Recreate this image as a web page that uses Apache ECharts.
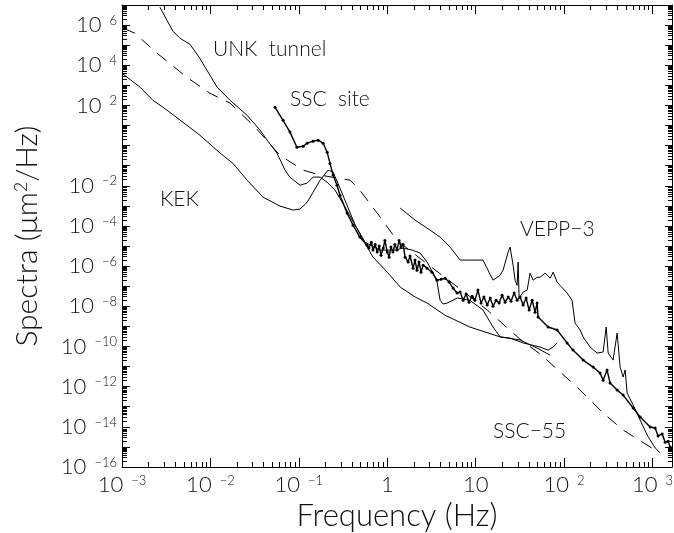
<!DOCTYPE html>
<html>
<head>
<meta charset="utf-8">
<script src="https://cdn.jsdelivr.net/npm/echarts@6/dist/echarts.min.js"></script>
<style>
html, body { margin: 0; padding: 0; background: #fff; }
#chart { width: 674px; height: 533px; }
</style>
</head>
<body>
<div id="chart"></div>
<script>
// [frequency (Hz), spectrum (um^2/Hz)]
var unkTunnel = [
	[2.69e-3, 7.7e6], [3.23e-3, 1.7e6], [3.78e-3, 4.9e5], [4.53e-3, 2.2e5], [5.88e-3, 1.1e5],
	[7.6e-3, 2.2e4], [1.19e-2, 810], [1.67e-2, 180], [2.6e-2, 32], [3.64e-2, 5.9],
	[4.37e-2, 1.9], [5.66e-2, 0.42], [6.98e-2, 0.060], [7.9e-2, 0.027], [0.103, 0.0107],
	[0.124, 0.0135], [0.145, 0.027], [0.174, 0.027], [0.209, 0.015], [0.257, 6.0e-3],
	[0.333, 8.7e-4], [0.433, 1.1e-4], [0.56, 1.55e-5], [0.83, 6.3e-6], [1.22, 6.3e-6],
	[1.51, 7.9e-6], [1.91, 6.3e-6], [2.35, 4.5e-6], [2.82, 1.6e-6], [3.30, 4.5e-7],
	[3.66, 1.6e-7], [3.96, 2.0e-8], [4.28, 1.3e-8], [4.75, 1.45e-8], [6.2, 2.6e-8],
	[8.6, 2.0e-8], [12.1, 6.5e-9], [15.7, 9.3e-10], [18.9, 3.0e-10], [24.5, 2.6e-10],
	[34.4, 1.5e-10], [53.6, 9.3e-11], [66, 6.6e-11], [75, 9.3e-11], [83, 1.5e-10]
];

var kek = [
	[1.0e-3, 4.0e3], [1.6e-3, 810], [2.24e-3, 180], [3.23e-3, 58], [5.43e-3, 10.2],
	[7.6e-3, 3.3], [1.29e-2, 0.42], [1.8e-2, 0.13], [2.6e-2, 0.019], [3.94e-2, 2.7e-3],
	[6.1e-2, 9.8e-4], [8.6e-2, 6.2e-4], [0.103, 6.9e-4], [0.124, 1.5e-3], [0.145, 4.8e-3],
	[0.174, 0.019], [0.214, 0.060], [0.244, 0.048], [0.292, 7.6e-3], [0.351, 1.07e-3],
	[0.433, 1.1e-4], [0.56, 1.4e-5], [0.69, 2.8e-6], [1.0, 5.0e-7], [1.40, 9.1e-8],
	[2.07, 2.9e-8], [2.82, 1.45e-8], [4.5, 3.6e-9], [8.6, 9.3e-10], [18.9, 3.0e-10],
	[31.8, 2.1e-10], [49.5, 8.3e-11], [69.5, 3.7e-11]
];

var sscSite = [
	[5.38e-2, 81], [6.63e-2, 18.2], [7.94e-2, 4.7], [9.5e-2, 0.83], [0.112, 0.93],
	[0.124, 1.32], [0.145, 1.66], [0.165, 1.86], [0.188, 1.32], [0.209, 0.47],
	[0.225, 0.13], [0.244, 0.034], [0.270, 0.0107], [0.292, 3.4e-3], [0.351, 4.4e-4],
	[0.41, 1.1e-4], [0.49, 2.8e-5], [0.59, 1.1e-5],
	[0.62, 7.9e-6], [0.66, 1.55e-5], [0.69, 6.3e-6], [0.73, 1.2e-5], [0.77, 5.0e-6],
	[0.81, 1.0e-5], [0.85, 3.5e-6], [0.90, 7.9e-6], [0.94, 1.9e-5], [1.0, 5.0e-6],
	[1.05, 2.8e-6], [1.10, 8.9e-6], [1.16, 5.0e-6], [1.22, 1.2e-5], [1.29, 6.3e-6],
	[1.36, 1.9e-5], [1.43, 8.9e-6], [1.51, 1.2e-5],
	[1.59, 2.8e-6], [1.72, 1.6e-6], [1.81, 3.2e-6], [1.96, 7.9e-7], [2.06, 2.0e-6],
	[2.17, 6.3e-7], [2.29, 1.6e-6], [2.41, 5.0e-7], [2.54, 1.1e-6], [2.82, 7.9e-7],
	[3.21, 5.0e-7], [3.66, 2.0e-7], [4.06, 2.2e-7], [4.51, 2.5e-7], [5.00, 1.6e-7],
	[5.55, 8.1e-8], [6.16, 4.6e-8],
	[6.67, 5.1e-8], [7.2, 2.0e-8], [7.8, 4.1e-8], [8.4, 1.6e-8], [9.1, 3.2e-8],
	[9.8, 2.0e-8], [10.6, 6.4e-8], [11.5, 1.45e-8], [12.4, 2.9e-8], [13.5, 1.15e-8],
	[14.6, 2.6e-8], [15.7, 1.0e-8], [17.0, 2.0e-8], [18.4, 1.45e-8], [19.9, 3.6e-8],
	[21.5, 1.6e-8], [23.3, 2.9e-8], [25.1, 1.8e-8], [27.2, 4.6e-8], [29.4, 2.0e-8],
	[31.8, 2.9e-8], [34.4, 1.15e-8], [37.2, 2.6e-8], [40.2, 6.5e-9], [43.5, 2.0e-8],
	[47.0, 5.1e-9], [49.5, 1.45e-8],
	[50.8, 2.9e-9], [65.9, 9.3e-10], [83.3, 6.6e-10], [108, 1.5e-10], [126, 6.6e-11],
	[164, 2.1e-11], [213, 9.4e-12], [255, 4.8e-12], [276, 2.1e-12], [306, 6.8e-12],
	[331, 1.5e-12], [398, 6.8e-13], [465, 3.8e-13], [604, 8.7e-14], [724, 3.1e-14],
	[940, 9.8e-15], [1070, 8.7e-15], [1155, 3.5e-15], [1285, 4.4e-15], [1390, 1.7e-15],
	[1500, 1.9e-15], [1580, 1.0e-15]
];

var vepp3 = [
	[1.40, 7.8e-4], [2.06, 1.95e-4], [3.05, 6.2e-5], [3.96, 2.8e-5], [5.13, 8.9e-6],
	[6.67, 2.0e-6], [8.65, 2.0e-6], [12.1, 2.0e-6], [15.7, 2.0e-7], [18.9, 3.5e-7],
	[20.4, 6.3e-7], [23.3, 5.0e-6], [24.5, 8.9e-6], [26.5, 1.1e-6], [27.9, 2.0e-7],
	[29.4, 1.1e-7], [30.2, 1.6e-6], [31.0, 2.6e-8], [34.4, 5.1e-8], [38.2, 6.4e-8],
	[41.2, 4.5e-7], [44.6, 2.0e-7], [49.5, 2.8e-7], [53.6, 2.8e-7], [61.0, 4.5e-7],
	[69.5, 2.5e-7], [75.2, 5.0e-7], [83.3, 1.6e-7], [90.2, 1.1e-7], [108, 4.6e-8],
	[123, 2.0e-8], [133, 1.45e-9], [152, 6.6e-10], [164, 3.0e-10], [197, 9.3e-11],
	[236, 4.7e-11], [276, 5.3e-11], [299, 9.3e-10], [315, 4.7e-11], [358, 2.1e-11],
	[398, 4.7e-10], [430, 9.4e-12], [465, 3.0e-12], [490, 6.8e-12], [516, 4.8e-13],
	[604, 1.2e-13], [724, 2.2e-14], [869, 3.9e-15], [1070, 8.9e-16], [1220, 5.0e-16]
];

var ssc55 = [
	[1.05e-3, 6.9e5], [1.40e-3, 3.9e5], [2.49e-3, 4.0e4], [5.43e-3, 2.5e3], [9.9e-3, 400],
	[1.67e-2, 130], [3.2e-2, 8.3], [6.1e-2, 0.33], [0.112, 0.060], [0.174, 0.034],
	[0.38, 0.019], [0.49, 6.0e-3], [0.83, 2.8e-4], [1.29, 1.9e-5], [3.05, 1.0e-6],
	[6.7, 7.2e-8], [13.5, 6.5e-9], [31.8, 2.3e-10], [53.6, 4.2e-11], [140, 9.5e-13],
	[276, 4.9e-14], [465, 6.9e-15], [1155, 5.6e-16]
];

var xMajorTicks = [1e-3, 1e-2, 1e-1, 1, 10, 100, 1000];
var yMajorTicks = [1e-16, 1e-15, 1e-14, 1e-13, 1e-12, 1e-11, 1e-10, 1e-9, 1e-8, 1e-7, 1e-6,
	1e-5, 1e-4, 1e-3, 1e-2, 1e-1, 1, 10, 100, 1e3, 1e4, 1e5, 1e6, 1e7];
var yLabelTicks = [1e-16, 1e-14, 1e-12, 1e-10, 1e-8, 1e-6, 1e-4, 1e-2, 100, 1e4, 1e6];

var xMin = 1e-3, xMax = 1660, yMin = 1e-16, yMax = 1e7;
var font = 'Lato';

function minorTicks(majors, lo, hi) {
	var out = [];
	for (var i = 0; i < majors.length; i++) {
		for (var k = 2; k <= 9; k++) {
			var v = majors[i] * k;
			if (v > lo && v < hi) out.push(v);
		}
	}
	return out;
}
var xMinorTicks = minorTicks(xMajorTicks, xMin, xMax);
var yMinorTicks = minorTicks(yMajorTicks, yMin, yMax);

function expOf(v) {
	return Math.round(Math.log10(v));
}
function supText(e) {
	return e < 0 ? '\u2212' + (-e) : '' + e;
}

var labelRich = {
	a : { fontFamily : font, fontSize : 22, fontWeight : 300, color : '#111' },
	b : { fontFamily : font, fontSize : 13, fontWeight : 300, color : '#111', verticalAlign : 'top', padding : [ 0, 0, 0, 8 ] }
};

function xLabel(v) {
	var e = expOf(v);
	if (Math.abs(Math.log10(v) - e) > 1e-6) return '';
	if (e === 0) return '{a|1}';
	if (e === 1) return '{a|10}';
	return '{a|10}{b|' + supText(e) + '}';
}
function yLabel(v) {
	var e = expOf(v);
	if (Math.abs(Math.log10(v) - e) > 1e-6 || e % 2 !== 0) return '';
	return '{a|10}{b|' + supText(e) + '}';
}

var axisBlack = { lineStyle : { color : '#000', width : 1 } };

function logAxis(extra) {
	var base = { type : 'log', logBase : 10, splitLine : { show : false } };
	for (var k in extra) base[k] = extra[k];
	return base;
}

var chart = echarts.init(document.getElementById('chart'));
var option = {
	backgroundColor : '#fff',
	animation : false,
	grid : [
		{ left : 122, right : 2, top : 5, bottom : 66, show : false, outerBoundsMode : 'none' },
		{ left : 122, right : 2, top : 5, bottom : 66, show : false, outerBoundsMode : 'none' }
	],
	xAxis : [
		logAxis({ gridIndex : 0, position : 'bottom', min : xMin, max : xMax,
			axisLine : axisBlack,
			axisTick : { inside : true, length : 9, customValues : xMajorTicks, lineStyle : { color : '#000' } },
			axisLabel : { customValues : xMajorTicks, formatter : xLabel, margin : 7, rich : labelRich },
			name : 'Frequency (Hz)', nameLocation : 'middle', nameGap : 30,
			nameTextStyle : { fontFamily : font, fontSize : 31, fontWeight : 300, color : '#111' } }),
		logAxis({ gridIndex : 0, position : 'top', min : xMin, max : xMax,
			axisLine : axisBlack,
			axisTick : { inside : true, length : 9, customValues : xMajorTicks, lineStyle : { color : '#000' } },
			axisLabel : { show : false } }),
		logAxis({ gridIndex : 1, position : 'bottom', min : xMin, max : xMax,
			axisLine : { show : false },
			axisTick : { inside : true, length : 5, customValues : xMinorTicks, lineStyle : { color : '#000' } },
			axisLabel : { show : false } }),
		logAxis({ gridIndex : 1, position : 'top', min : xMin, max : xMax,
			axisLine : { show : false },
			axisTick : { inside : true, length : 5, customValues : xMinorTicks, lineStyle : { color : '#000' } },
			axisLabel : { show : false } })
	],
	yAxis : [
		logAxis({ gridIndex : 0, position : 'left', min : yMin, max : yMax,
			axisLine : axisBlack,
			axisTick : { inside : true, length : 8, customValues : yMajorTicks, lineStyle : { color : '#000' } },
			axisLabel : { customValues : yLabelTicks, formatter : yLabel, margin : 5, rich : labelRich },
			name : '{t|Spectra (\u03bcm}{s|2}{t|/Hz)}', nameLocation : 'middle', nameGap : 80,
			nameTextStyle : { rich : {
				t : { fontFamily : font, fontSize : 30, fontWeight : 300, color : '#111' },
				s : { fontFamily : font, fontSize : 18, fontWeight : 300, color : '#111', verticalAlign : 'top' }
			} } }),
		logAxis({ gridIndex : 0, position : 'right', min : yMin, max : yMax,
			axisLine : axisBlack,
			axisTick : { inside : true, length : 7, customValues : yMajorTicks, lineStyle : { color : '#000' } },
			axisLabel : { show : false } }),
		logAxis({ gridIndex : 1, position : 'left', min : yMin, max : yMax,
			axisLine : { show : false },
			axisTick : { inside : true, length : 5, customValues : yMinorTicks, lineStyle : { color : '#000' } },
			axisLabel : { show : false } }),
		logAxis({ gridIndex : 1, position : 'right', min : yMin, max : yMax,
			axisLine : { show : false },
			axisTick : { inside : true, length : 4, customValues : yMinorTicks, lineStyle : { color : '#000' } },
			axisLabel : { show : false } })
	],
	graphic : [
		{ type : 'text', left : 213, top : 39, style : { text : 'UNK  tunnel', font : '300 21px ' + font, fill : '#111' } },
		{ type : 'text', left : 290, top : 89, style : { text : 'SSC  site', font : '300 21px ' + font, fill : '#111' } },
		{ type : 'text', left : 160, top : 189, style : { text : 'KEK', font : '300 21px ' + font, fill : '#111' } },
		{ type : 'text', left : 520, top : 219, style : { text : 'VEPP\u22123', font : '300 21px ' + font, fill : '#111' } },
		{ type : 'text', left : 493, top : 421, style : { text : 'SSC\u221255', font : '300 21px ' + font, fill : '#111' } }
	],
	series : [ {
		name : 'UNK tunnel',
		type : 'line',
		xAxisIndex : 0, yAxisIndex : 0,
		data : unkTunnel,
		symbol : 'none',
		lineStyle : { color : '#000', width : 1 }
	}, {
		name : 'KEK',
		type : 'line',
		xAxisIndex : 0, yAxisIndex : 0,
		data : kek,
		symbol : 'none',
		lineStyle : { color : '#000', width : 1 }
	}, {
		name : 'VEPP-3',
		type : 'line',
		xAxisIndex : 0, yAxisIndex : 0,
		data : vepp3,
		symbol : 'none',
		lineStyle : { color : '#000', width : 1 }
	}, {
		name : 'SSC-55',
		type : 'line',
		xAxisIndex : 0, yAxisIndex : 0,
		data : ssc55,
		symbol : 'none',
		lineStyle : { color : '#000', width : 1, type : [ 12, 9 ] }
	}, {
		name : 'SSC site',
		type : 'line',
		xAxisIndex : 0, yAxisIndex : 0,
		data : sscSite,
		symbol : 'circle',
		symbolSize : 3,
		showSymbol : true,
		itemStyle : { color : '#000' },
		lineStyle : { color : '#000', width : 1.4 }
	} ]
};
chart.setOption(option);
</script>
</body>
</html>
